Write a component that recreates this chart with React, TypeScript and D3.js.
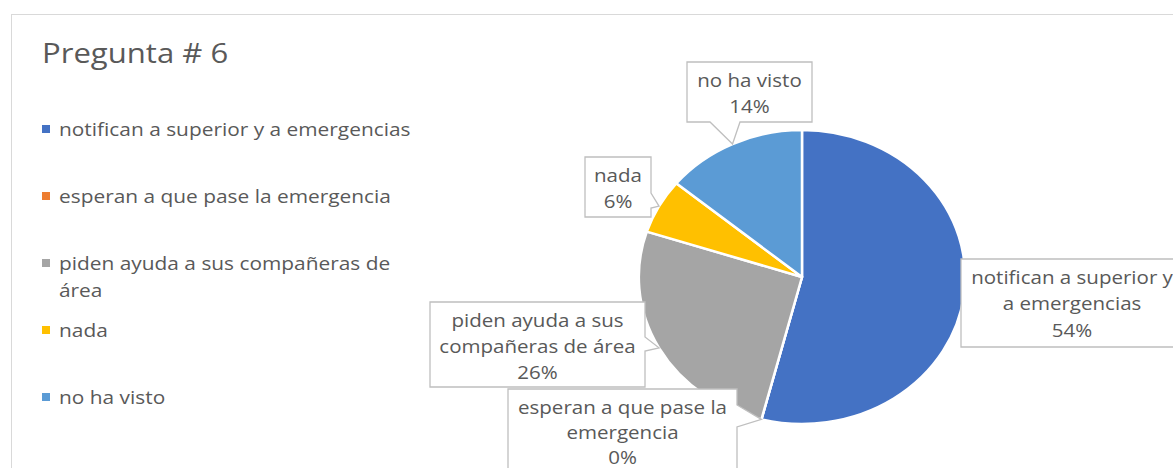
import React from 'react';
import * as d3 from 'd3';

// data
const categories = [
  'notifican a superior y a emergencias',
  'esperan a que pase la emergencia',
  'piden ayuda a sus compañeras de área',
  'nada',
  'no ha visto',
];
const values = [54, 0, 26, 6, 14];
const colors = ['#4472C4', '#ED7D31', '#A5A5A5', '#FFC000', '#5B9BD5'];
const legendLines = [
  ['notifican a superior y a emergencias'],
  ['esperan a que pase la emergencia'],
  ['piden ayuda a sus compañeras de', 'área'],
  ['nada'],
  ['no ha visto'],
];
const labelLines = [
  ['notifican a superior y', 'a emergencias'],
  ['esperan a que pase la', 'emergencia'],
  ['piden ayuda a sus', 'compañeras de área'],
  ['nada'],
  ['no ha visto'],
];

// layout of the data label callouts (box + which side the pointer leaves from)
type Side = 'none' | 'right' | 'bottom';
const labelBoxes: { x: number; y: number; w: number; h: number; lh: number; side: Side; b: [number, number] }[] = [
  { x: 961, y: 259, w: 222, h: 88, lh: 26.5, side: 'none', b: [0, 0] },
  { x: 508, y: 389, w: 229, h: 88, lh: 25, side: 'right', b: [405, 427] },
  { x: 430, y: 302, w: 215, h: 85, lh: 26, side: 'right', b: [337, 351] },
  { x: 585, y: 157, w: 66, h: 60, lh: 26.5, side: 'right', b: [193, 208] },
  { x: 687, y: 62, w: 125, h: 60, lh: 26.5, side: 'bottom', b: [710, 740] },
];

const W = 1173;
const H = 468;
const SX = 1.11; // the picture is stretched horizontally
const CX = 802;
const CY = 277;
const R = 147;
const FONT = '"Open Sans", "Noto Sans", sans-serif';
const TXT = '#595959';

const calloutPath = (bx: typeof labelBoxes[number], tx: number, ty: number) => {
  const { x, y, w, h, side, b } = bx;
  if (side === 'right') {
    return `M${x},${y}H${x + w}V${b[0]}L${tx},${ty}L${x + w},${b[1]}V${y + h}H${x}Z`;
  }
  if (side === 'bottom') {
    return `M${x},${y}H${x + w}V${y + h}H${b[1]}L${tx},${ty}L${b[0]},${y + h}H${x}Z`;
  }
  return `M${x},${y}H${x + w}V${y + h}H${x}Z`;
};

const App = () => {
  const total = d3.sum(values);
  const pie = d3.pie<number>().sort(null).value(d => d);
  const arcs = pie(values);
  const arc = d3.arc<d3.PieArcDatum<number>>().innerRadius(0).outerRadius(R);

  return (
    <svg width={W} height={H} style={{ position: 'absolute', left: 0, top: 0, background: '#fff' }}>
      <rect x={11.5} y={14.5} width={W} height={H} fill="#fff" stroke="#d9d9d9" strokeWidth={1} />

      <text transform={`translate(42,62.5) scale(${SX},1)`} fontFamily={FONT} fontSize={28} fill={TXT}>
        Pregunta # 6
      </text>

      {/* legend */}
      {categories.map((c, i) => {
        const base = 136 + 67 * i;
        return (
          <g key={c}>
            <rect x={42} y={base - 11} width={8} height={8} fill={colors[i]} />
            {legendLines[i].map((ln, j) => (
              <text key={j} transform={`translate(59,${base + j * 26.7}) scale(${SX},1)`}
                fontFamily={FONT} fontSize={18.8} fill={TXT}>{ln}</text>
            ))}
          </g>
        );
      })}

      {/* pie */}
      <g transform={`translate(${CX},${CY}) scale(${SX},1)`}>
        {arcs.map((a, i) => (
          <path key={i} d={arc(a) || ''} fill={colors[i]} stroke="#fff" strokeWidth={2.5}
            vectorEffect="non-scaling-stroke" strokeLinejoin="round" />
        ))}
      </g>

      {/* data labels */}
      {arcs.map((a, i) => {
        const mid = (a.startAngle + a.endAngle) / 2;
        const tx = CX + SX * R * Math.sin(mid);
        const ty = CY - R * Math.cos(mid);
        const bx = labelBoxes[i];
        const lines = [...labelLines[i], `${Math.round((values[i] / total) * 100)}%`];
        const mx = bx.x + bx.w / 2;
        return (
          <g key={i}>
            <path d={calloutPath(bx, tx, ty)} fill="#fff" stroke="#bfbfbf" strokeWidth={1.3} />
            {lines.map((ln, j) => (
              <text key={j} transform={`translate(${mx},${bx.y + 24.5 + j * bx.lh}) scale(${SX},1)`}
                textAnchor="middle" fontFamily={FONT} fontSize={18.5} fill={TXT}>{ln}</text>
            ))}
          </g>
        );
      })}
    </svg>
  );
};

export default App;
